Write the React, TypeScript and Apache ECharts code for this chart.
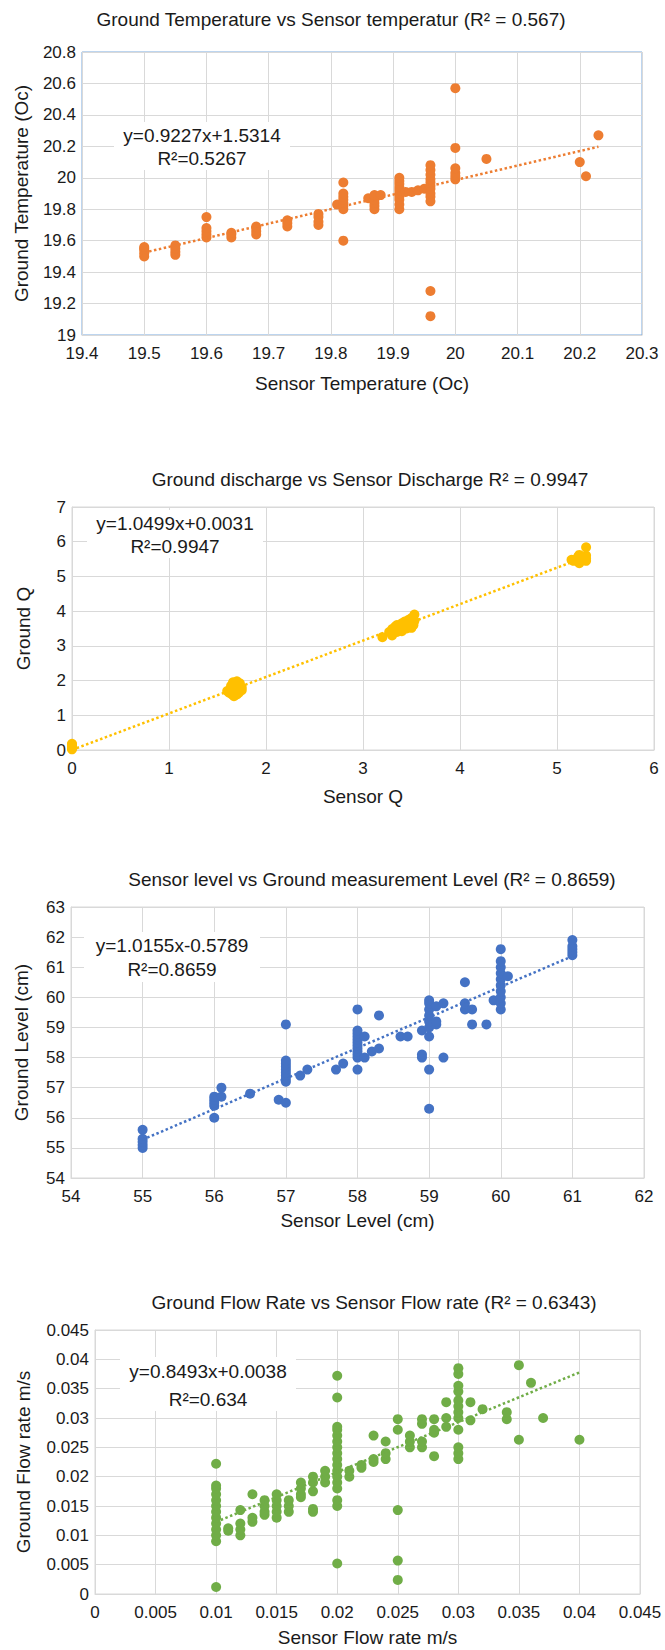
import React, { useEffect, useRef } from "react";
import * as echarts from "echarts";

const FONT = "'Liberation Sans', Arial, Helvetica, sans-serif";

// ---------- DATA ----------
const tempPoints: [number, number][] = [
  [19.5, 19.5], [19.5, 19.52], [19.5, 19.54], [19.5, 19.55], [19.5, 19.56],
  [19.55, 19.51], [19.55, 19.53], [19.55, 19.55], [19.55, 19.57],
  [19.6, 19.62], [19.6, 19.64], [19.6, 19.66], [19.6, 19.68], [19.6, 19.75],
  [19.64, 19.62], [19.64, 19.64], [19.64, 19.65],
  [19.68, 19.64], [19.68, 19.66], [19.68, 19.68], [19.68, 19.69],
  [19.73, 19.69], [19.73, 19.71], [19.73, 19.73],
  [19.78, 19.7], [19.78, 19.72], [19.78, 19.75], [19.78, 19.77],
  [19.81, 19.83], [19.82, 19.6], [19.82, 19.8], [19.82, 19.82], [19.82, 19.84],
  [19.82, 19.86], [19.82, 19.88], [19.82, 19.9], [19.82, 19.97],
  [19.86, 19.87], [19.87, 19.8], [19.87, 19.82], [19.87, 19.84], [19.87, 19.86],
  [19.87, 19.88], [19.87, 19.89], [19.88, 19.89],
  [19.91, 19.8], [19.91, 19.83], [19.91, 19.86], [19.91, 19.88], [19.91, 19.9],
  [19.91, 19.92], [19.91, 19.94], [19.91, 19.96], [19.91, 19.98], [19.91, 20.0],
  [19.92, 19.91], [19.93, 19.91], [19.94, 19.92], [19.95, 19.93],
  [19.96, 19.12], [19.96, 19.28], [19.96, 19.85], [19.96, 19.88], [19.96, 19.9],
  [19.96, 19.93], [19.96, 19.95], [19.96, 19.97], [19.96, 19.99], [19.96, 20.02],
  [19.96, 20.05], [19.96, 20.08],
  [20.0, 19.99], [20.0, 20.01], [20.0, 20.03], [20.0, 20.06], [20.0, 20.19], [20.0, 20.57],
  [20.05, 20.12], [20.2, 20.1], [20.21, 20.01], [20.23, 20.27],
];

const dischargePoints: [number, number][] = [
  [0, 0.02], [0, 0.05], [0, 0.08], [0, 0.11], [0, 0.15], [0, 0.18],
  [1.6, 1.7], [1.62, 1.65], [1.63, 1.75], [1.65, 1.6], [1.65, 1.8], [1.67, 1.55],
  [1.68, 1.7], [1.68, 1.9], [1.7, 1.98], [1.7, 1.6], [1.7, 1.75], [1.72, 1.85],
  [1.72, 1.65], [1.73, 1.92], [1.75, 1.8], [1.75, 1.72], [1.66, 1.95], [1.64, 1.85],
  [3.2, 3.25], [3.27, 3.4], [3.3, 3.3], [3.3, 3.48], [3.33, 3.55], [3.35, 3.4],
  [3.35, 3.6], [3.38, 3.5], [3.4, 3.65], [3.4, 3.42], [3.42, 3.58], [3.43, 3.7],
  [3.45, 3.5], [3.45, 3.62], [3.47, 3.75], [3.48, 3.55], [3.5, 3.68], [3.5, 3.8],
  [3.52, 3.6], [3.53, 3.72], [3.53, 3.9], [3.3, 3.35], [3.36, 3.52], [3.44, 3.6],
  [3.5, 3.52],
  [5.15, 5.48], [5.17, 5.45], [5.2, 5.5], [5.22, 5.58], [5.23, 5.62], [5.23, 5.38],
  [5.25, 5.55], [5.3, 5.45], [5.3, 5.52], [5.3, 5.6], [5.3, 5.84], [5.28, 5.5],
];

const levelPoints: [number, number][] = [
  [55, 55.0], [55, 55.1], [55, 55.2], [55, 55.3], [55, 55.6],
  [56, 56.0], [56, 56.4], [56, 56.5], [56, 56.6], [56, 56.7], [56.1, 56.7], [56.1, 57.0],
  [56.5, 56.8], [56.9, 56.6],
  [57, 56.5], [57, 57.2], [57, 57.3], [57, 57.4], [57, 57.5], [57, 57.6], [57, 57.7],
  [57, 57.8], [57, 57.9], [57, 59.1],
  [57.2, 57.4], [57.3, 57.6], [57.7, 57.6], [57.8, 57.8],
  [58, 57.6], [58, 58.0], [58, 58.1], [58, 58.2], [58, 58.3], [58, 58.4], [58, 58.5],
  [58, 58.6], [58, 58.7], [58, 58.8], [58, 58.9], [58, 59.6],
  [58.1, 58.0], [58.1, 58.7], [58.2, 58.2], [58.3, 58.3], [58.3, 59.4],
  [58.6, 58.7], [58.7, 58.7],
  [58.9, 58.0], [58.9, 58.1], [58.9, 58.9],
  [59, 56.3], [59, 57.6], [59, 58.7], [59, 59.0], [59, 59.2], [59, 59.4], [59, 59.6],
  [59, 59.8], [59, 59.9],
  [59.1, 59.1], [59.1, 59.2], [59.1, 59.7], [59.2, 58.0], [59.2, 59.8],
  [59.5, 59.6], [59.5, 59.8], [59.5, 60.5], [59.6, 59.1], [59.6, 59.6], [59.8, 59.1],
  [59.9, 59.9],
  [60, 59.6], [60, 59.8], [60, 60.0], [60, 60.2], [60, 60.4], [60, 60.6], [60, 60.8],
  [60, 61.0], [60, 61.2], [60, 61.6], [60.1, 60.7],
  [61, 61.4], [61, 61.5], [61, 61.6], [61, 61.7], [61, 61.9],
];

const flowPoints: [number, number][] = [
  [0.01, 0.0012], [0.01, 0.009], [0.01, 0.01], [0.01, 0.011], [0.01, 0.012], [0.01, 0.013],
  [0.01, 0.014], [0.01, 0.015], [0.01, 0.016], [0.01, 0.017], [0.01, 0.018], [0.01, 0.0185],
  [0.01, 0.0222],
  [0.011, 0.0108], [0.011, 0.0112],
  [0.012, 0.01], [0.012, 0.011], [0.012, 0.012], [0.012, 0.0143],
  [0.013, 0.0123], [0.013, 0.013], [0.013, 0.017],
  [0.014, 0.0135], [0.014, 0.014], [0.014, 0.015], [0.014, 0.016],
  [0.015, 0.013], [0.015, 0.014], [0.015, 0.015], [0.015, 0.016], [0.015, 0.017],
  [0.016, 0.014], [0.016, 0.015], [0.016, 0.016],
  [0.017, 0.0165], [0.017, 0.017], [0.017, 0.018], [0.017, 0.019],
  [0.018, 0.014], [0.018, 0.0145], [0.018, 0.0175], [0.018, 0.019], [0.018, 0.02],
  [0.019, 0.019], [0.019, 0.02], [0.019, 0.021],
  [0.02, 0.0052], [0.02, 0.015], [0.02, 0.016], [0.02, 0.018], [0.02, 0.019], [0.02, 0.02],
  [0.02, 0.021], [0.02, 0.022], [0.02, 0.023], [0.02, 0.024], [0.02, 0.025], [0.02, 0.026],
  [0.02, 0.027], [0.02, 0.028], [0.02, 0.0285], [0.02, 0.0335], [0.02, 0.0372],
  [0.021, 0.02], [0.021, 0.021], [0.022, 0.0215], [0.022, 0.022],
  [0.023, 0.0225], [0.023, 0.023], [0.023, 0.027],
  [0.024, 0.023], [0.024, 0.024], [0.024, 0.026],
  [0.025, 0.0024], [0.025, 0.0057], [0.025, 0.0143], [0.025, 0.028], [0.025, 0.0298],
  [0.026, 0.025], [0.026, 0.026], [0.026, 0.027],
  [0.027, 0.025], [0.027, 0.026], [0.027, 0.029], [0.027, 0.0298],
  [0.028, 0.0235], [0.028, 0.0275], [0.028, 0.028], [0.028, 0.0298],
  [0.029, 0.0285], [0.029, 0.03], [0.029, 0.0327],
  [0.03, 0.023], [0.03, 0.024], [0.03, 0.025], [0.03, 0.028], [0.03, 0.03], [0.03, 0.031],
  [0.03, 0.032], [0.03, 0.033], [0.03, 0.0345], [0.03, 0.0355], [0.03, 0.0375], [0.03, 0.0385],
  [0.031, 0.0296], [0.031, 0.0327], [0.032, 0.0315],
  [0.034, 0.0298], [0.034, 0.031], [0.035, 0.0263], [0.035, 0.039],
  [0.036, 0.036], [0.037, 0.03], [0.04, 0.0263],
];

const chartTitles = [
  "Ground Temperature vs Sensor temperatur (R\u00B2 = 0.567)",
  "Ground discharge vs Sensor Discharge R\u00B2 = 0.9947",
  "Sensor level vs Ground measurement Level (R\u00B2 = 0.8659)",
  "Ground Flow Rate vs Sensor Flow rate (R\u00B2 = 0.6343)",
];
const xAxisNames = ["Sensor Temperature (Oc)", "Sensor Q", "Sensor Level (cm)", "Sensor Flow rate m/s"];
const yAxisNames = ["Ground Temperature (Oc)", "Ground Q", "Ground Level (cm)", "Ground Flow rate m/s"];
const equationTexts = ["y=0.9227x+1.5314", "y=1.0499x+0.0031", "y=1.0155x-0.5789", "y=0.8493x+0.0038"];
const r2Texts = ["R\u00B2=0.5267", "R\u00B2=0.9947", "R\u00B2=0.8659", "R\u00B2=0.634"];
const trendSlopes = [0.9227, 1.0499, 1.0155, 0.8493];
const trendIntercepts = [1.5314, 0.0031, -0.5789, 0.0038];
const trendFrom = [19.5, 0, 55, 0.01];
const trendTo = [20.23, 5.25, 61, 0.04];
const xMins = [19.4, 0, 54, 0];
const xMaxs = [20.3, 6, 62, 0.045];
const xSteps = [0.1, 1, 1, 0.005];
const yMins = [19, 0, 54, 0];
const yMaxs = [20.8, 7, 63, 0.045];
const ySteps = [0.2, 1, 1, 0.005];
const seriesColors = ["#ED7D31", "#FFC000", "#4472C4", "#70AD47"];
const allPoints = [tempPoints, dischargePoints, levelPoints, flowPoints];

// ---------- LAYOUT ----------
const grids = [
  { left: 82, top: 52, width: 560, height: 283 },
  { left: 72, top: 507, width: 582, height: 243 },
  { left: 71, top: 907, width: 573, height: 271 },
  { left: 95, top: 1330, width: 545, height: 264 },
];
const titlePos = [
  { x: 331, y: 19 },
  { x: 370, y: 479 },
  { x: 372, y: 879 },
  { x: 374, y: 1302 },
];
const xNameGap = [39, 37, 33, 34];
const yNameGap = [51, 39, 40, 62];
const annot = [
  { cx: 202, y1: 135, y2: 158, bx: 114, by: 122, bw: 176, bh: 48 },
  { cx: 175, y1: 523, y2: 546, bx: 87, by: 510, bw: 176, bh: 48 },
  { cx: 172, y1: 945, y2: 969, bx: 84, by: 932, bw: 176, bh: 50 },
  { cx: 208, y1: 1371, y2: 1399, bx: 120, by: 1357, bw: 176, bh: 54 },
];
const borderColors = ["#7AAADE", "#D9D9D9", "#D9D9D9", "#D9D9D9"];
const symbolSizes = [10, 10, 10, 10];

const TEXT = "#1a1a1a";
const GRIDLINE = "#D9D9D9";

export default function App() {
  const ref = useRef<HTMLDivElement>(null);

  useEffect(() => {
    if (!ref.current) return;
    const chart = echarts.init(ref.current, undefined, { renderer: "svg" });

    const gridOpt = grids.map((g, i) => ({
      ...g,
      show: true,
      borderColor: borderColors[i],
      borderWidth: 1,
      backgroundColor: "#ffffff",
      containLabel: false,
    }));

    const xAxis = grids.map((_, i) => ({
      type: "value",
      gridIndex: i,
      min: xMins[i],
      max: xMaxs[i],
      interval: xSteps[i],
      name: xAxisNames[i],
      nameLocation: "middle",
      nameGap: xNameGap[i],
      nameTextStyle: { fontFamily: FONT, fontSize: 19, color: TEXT },
      axisLine: { show: true, lineStyle: { color: GRIDLINE, width: 1 } },
      axisTick: { show: false },
      axisLabel: { fontFamily: FONT, fontSize: 17, color: TEXT, margin: 10, hideOverlap: false, showMinLabel: true, showMaxLabel: true },
      splitLine: { show: true, lineStyle: { color: GRIDLINE, width: 1 } },
    }));

    const yAxis = grids.map((_, i) => ({
      type: "value",
      gridIndex: i,
      min: yMins[i],
      max: yMaxs[i],
      interval: ySteps[i],
      name: yAxisNames[i],
      nameLocation: "middle",
      nameGap: yNameGap[i],
      nameRotate: 90,
      nameTextStyle: { fontFamily: FONT, fontSize: 19, color: TEXT },
      axisLine: { show: true, lineStyle: { color: GRIDLINE, width: 1 } },
      axisTick: { show: false },
      axisLabel: { fontFamily: FONT, fontSize: 17, color: TEXT, margin: 6, showMinLabel: true, showMaxLabel: true },
      splitLine: { show: true, lineStyle: { color: GRIDLINE, width: 1 } },
    }));

    const series: any[] = [];
    allPoints.forEach((pts, i) => {
      series.push({
        type: "scatter",
        xAxisIndex: i,
        yAxisIndex: i,
        data: pts,
        symbol: "circle",
        symbolSize: symbolSizes[i],
        itemStyle: { color: seriesColors[i], opacity: 1 },
        z: 3,
      });
      series.push({
        type: "line",
        xAxisIndex: i,
        yAxisIndex: i,
        data: [
          [trendFrom[i], trendSlopes[i] * trendFrom[i] + trendIntercepts[i]],
          [trendTo[i], trendSlopes[i] * trendTo[i] + trendIntercepts[i]],
        ],
        symbol: "none",
        lineStyle: { color: seriesColors[i], width: 2.5, type: [2.5, 2.5] },
        z: 4,
      });
    });

    const graphic: any[] = [];
    chartTitles.forEach((t, i) => {
      graphic.push({
        type: "text",
        x: titlePos[i].x,
        y: titlePos[i].y,
        style: {
          text: t,
          fontFamily: FONT,
          fontSize: 19,
          fill: TEXT,
          textAlign: "center",
          textVerticalAlign: "middle",
        },
        z: 10,
      });
    });
    annot.forEach((a, i) => {
      graphic.push({
        type: "rect",
        shape: { x: a.bx, y: a.by, width: a.bw, height: a.bh },
        style: { fill: "#ffffff" },
        z: 5,
      });
      graphic.push({
        type: "text",
        x: a.cx,
        y: a.y1,
        style: { text: equationTexts[i], fontFamily: FONT, fontSize: 19, fill: TEXT, textAlign: "center", textVerticalAlign: "middle" },
        z: 6,
      });
      graphic.push({
        type: "text",
        x: a.cx,
        y: a.y2,
        style: { text: r2Texts[i], fontFamily: FONT, fontSize: 19, fill: TEXT, textAlign: "center", textVerticalAlign: "middle" },
        z: 6,
      });
    });

    chart.setOption({
      animation: false,
      backgroundColor: "#ffffff",
      grid: gridOpt,
      xAxis,
      yAxis,
      series,
      graphic,
    });

    return () => chart.dispose();
  }, []);

  return (
    <div
      ref={ref}
      style={{ position: "absolute", left: 0, top: 0, width: 665, height: 1650, background: "#fff" }}
    />
  );
}
